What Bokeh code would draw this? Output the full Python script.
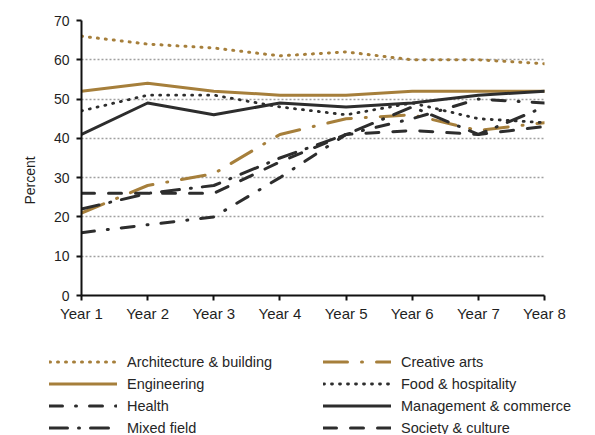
import math
from bokeh.plotting import figure
from bokeh.models import Range1d, FixedTicker, Legend, LegendItem, Title
from bokeh.embed import file_html
from bokeh.resources import INLINE

# ---- data ----
years = ["Year 1", "Year 2", "Year 3", "Year 4", "Year 5", "Year 6", "Year 7", "Year 8"]
architecture = [66, 64, 63, 61, 62, 60, 60, 59]
creative_arts = [21, 28, 31, 41, 45, 46, 42, 44]
engineering = [52, 54, 52, 51, 51, 52, 52, 52]
food_hospitality = [47, 51, 51, 48, 46, 49, 45, 44]
health = [16, 18, 20, 30, 41, 45, 50, 49]
management = [41, 49, 46, 49, 48, 49, 51, 52]
mixed_field = [22, 26, 28, 35, 41, 48, 41, 48]
society_culture = [26, 26, 26, 34, 41, 42, 41, 43]
y_ticks = [0, 10, 20, 30, 40, 50, 60, 70]

GOLD = "#A67F3B"
DARK = "#2d2d2d"
FONT = "Liberation Sans"

series = [
    ("Architecture & building", architecture, GOLD, "1 7", 3),
    ("Creative arts", creative_arts, GOLD, "24 14 1 14", 3),
    ("Engineering", engineering, GOLD, "solid", 3),
    ("Food & hospitality", food_hospitality, DARK, "1 7", 2.8),
    ("Health", health, DARK, "13 13 1 13", 3),
    ("Management & commerce", management, DARK, "solid", 3),
    ("Mixed field", mixed_field, DARK, "18 11 1 11", 3),
    ("Society & culture", society_culture, DARK, "13 14", 3),
]

xs = list(range(len(years)))

p = figure(width=586, height=330, x_range=Range1d(0, len(years) - 1),
           y_range=Range1d(y_ticks[0], y_ticks[-1]),
           output_backend="svg", toolbar_location=None,
           min_border_left=81, min_border_right=42, min_border_top=20,
           min_border_bottom=35)
p.outline_line_color = None
p.background_fill_color = "white"

p.xgrid.visible = False
p.ygrid.ticker = FixedTicker(ticks=y_ticks)
p.ygrid.grid_line_color = "#a0a0a0"
p.ygrid.grid_line_dash = "2 2"
p.ygrid.grid_line_width = 1.5

p.xaxis.ticker = FixedTicker(ticks=xs)
p.xaxis.major_label_overrides = {i: y for i, y in enumerate(years)}
p.yaxis.ticker = FixedTicker(ticks=y_ticks)
for ax in (p.xaxis, p.yaxis):
    ax.axis_line_color = "#111111"
    ax.axis_line_width = 2
    ax.major_tick_line_color = "#111111"
    ax.major_tick_line_width = 2
    ax.major_tick_out = 5
    ax.major_tick_in = 0
    ax.minor_tick_out = 0
    ax.minor_tick_in = 0
    ax.major_label_text_font = FONT
    ax.major_label_text_color = "#1f1f1f"
p.xaxis.major_label_text_font_size = "15px"
p.yaxis.major_label_text_font_size = "14px"
p.yaxis.major_label_standoff = 7
p.xaxis.major_label_standoff = 4

for name, vals, color, dash, w in series:
    p.line(xs, vals, line_color=color, line_width=w, line_dash=dash,
           line_cap="round", line_join="round")

p.add_layout(Title(text="Percent", align="left", offset=91, standoff=26,
                   text_font=FONT, text_font_size="14px",
                   text_font_style="normal", text_color="#1f1f1f"), "left")

# ---- legend figure ----
pl = figure(width=586, height=104, x_range=Range1d(0, 1), y_range=Range1d(0, 1),
            x_axis_type=None, y_axis_type=None,
            output_backend="svg", toolbar_location=None, min_border=0)
pl.grid.visible = False
pl.outline_line_color = None

items = {}
for name, vals, color, dash, w in series:
    r = pl.line([-10, -9], [-10, -9], line_color=color, line_width=w, line_dash=dash,
                line_cap="round", line_join="round")
    items[name] = LegendItem(label=name, renderers=[r])

names = [s[0] for s in series]
order = names[0::2] + names[1::2]  # column-major: left column then right column
legend = Legend(items=[items[n] for n in order], location=(49, -2),
                orientation="vertical", ncols=2,
                glyph_width=68, glyph_height=17, label_height=17,
                label_standoff=10, label_width=191, spacing=5,
                padding=0, margin=0, border_line_color=None,
                background_fill_alpha=0,
                label_text_font=FONT, label_text_font_size="14.5px",
                label_text_color="#262626")
pl.add_layout(legend, "center")

open("out.html", "w").write(file_html([p, pl], INLINE))
